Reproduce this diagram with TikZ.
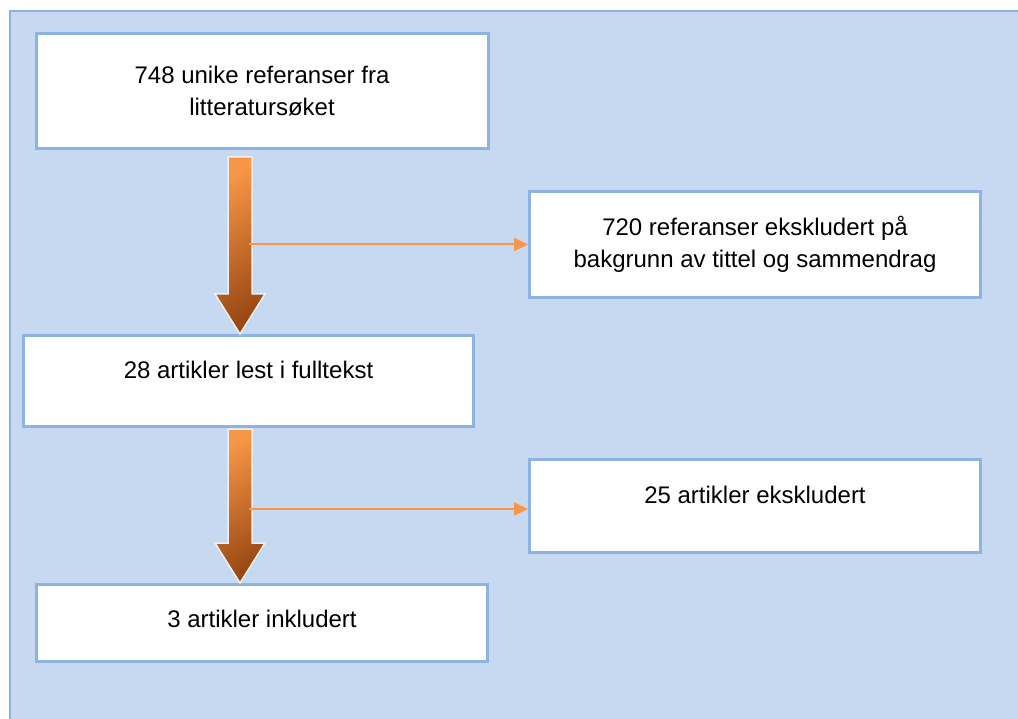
\documentclass[tikz,border=0pt]{standalone}
\usepackage{fontspec}
\setmainfont{Liberation Sans}
\usetikzlibrary{arrows.meta,calc}

\definecolor{panelblue}{HTML}{C6D9F1}
\definecolor{frameblue}{HTML}{8DB3E2}
\definecolor{floworange}{HTML}{F79646}
\definecolor{flowbrown}{HTML}{9A4814}
\definecolor{rimwhite}{HTML}{F0F0F0}

\tikzset{
  stepbox/.style={draw=frameblue, line width=3pt, fill=white, rectangle,
    align=center, inner sep=0pt, font=\fontsize{24}{32}\selectfont},
  oneline/.style={text height=17pt, text depth=#1},
  fatarrow/.style={draw=rimwhite, line width=1.5pt, top color=floworange,
    bottom color=flowbrown, shading angle=30},
  thinarrow/.style={draw=floworange, line width=2pt,
    -{Triangle[length=14pt,width=13pt]}}
}

% #1 = start of shaft, #2 = tip
\newcommand\fatarrow[2]{%
  \shadedraw[fatarrow] let \p1=(#1), \p2=(#2) in
    (\x1-12pt,\y1) -- (\x1+12pt,\y1) -- (\x1+12pt,\y2+40pt) -- (\x1+25pt,\y2+40pt)
    -- (\x1,\y2) -- (\x1-25pt,\y2+40pt) -- (\x1-12pt,\y2+40pt) -- cycle;}

\begin{document}
\begin{tikzpicture}[x=1pt,y=-1pt]
  \useasboundingbox (0,0) rectangle (1018,719);
  \fill[panelblue] (10,11) rectangle (1018,719);
  \draw[frameblue, line width=1.5pt] (10,719) -- (10,11) -- (1018,11);

  \coordinate (ax) at (240,0);
  \coordinate (sx) at (249,0);

  \node[stepbox, minimum width=452pt, minimum height=115pt] (refs) at (262,91)
    {748 unike referanser fra\\litteratursøket};
  \node[stepbox, minimum width=451pt, minimum height=106pt] (excl1) at (755,244.5)
    {720 referanser ekskludert på\\bakgrunn av tittel og sammendrag};
  \node[stepbox, oneline=21pt, minimum width=450pt, minimum height=91pt] (full) at (248.5,381)
    {28 artikler lest i fulltekst};
  \node[stepbox, oneline=23pt, minimum width=451pt, minimum height=93pt] (excl2) at (755,506)
    {25 artikler ekskludert};
  \node[stepbox, oneline=9pt, minimum width=451pt, minimum height=77pt] (incl) at (262,623)
    {3 artikler inkludert};

  \fatarrow{$(refs.south -| ax)+(0,7)$}{full.north -| ax}
  \fatarrow{$(full.south -| ax)+(0,1)$}{incl.north -| ax}

  \draw[thinarrow] (excl1.west -| sx) -- (excl1.west);
  \draw[thinarrow] ($(excl2.west -| sx)+(0,3)$) -- ($(excl2.west)+(0,3)$);

  %\draw[lightgray] (0,0) grid[step=50] (1018,719);
\end{tikzpicture}
\end{document}
